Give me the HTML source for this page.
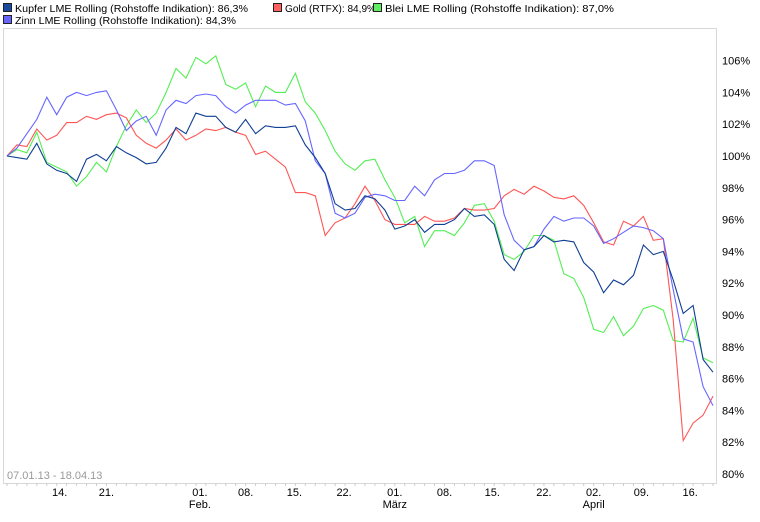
<!DOCTYPE html>
<html><head><meta charset="utf-8"><style>
body{margin:0;background:#fff;width:760px;height:517px;overflow:hidden}
svg{font-family:"Liberation Sans",sans-serif;font-size:11px}
</style></head><body>
<svg id="chart" width="760" height="517" viewBox="0 0 760 517">
<g style="font-size:10.5px">
 <g><rect x="3.5" y="3.5" width="8" height="8" fill="#1a4a9c" stroke="#222"/><text x="15" y="12" textLength="233" lengthAdjust="spacingAndGlyphs">Kupfer LME Rolling (Rohstoffe Indikation): 86,3%</text></g>
 <g><rect x="273.5" y="3.5" width="8" height="8" fill="#ff6060" stroke="#222"/><text x="285" y="12" textLength="91" lengthAdjust="spacingAndGlyphs">Gold (RTFX): 84,9%</text></g>
 <g><rect x="373.5" y="3.5" width="8" height="8" fill="#60ee60" stroke="#222"/><text x="385" y="12" textLength="229" lengthAdjust="spacingAndGlyphs">Blei LME Rolling (Rohstoffe Indikation): 87,0%</text></g>
 <g><rect x="3.5" y="15.5" width="8" height="8" fill="#6666ff" stroke="#222"/><text x="15" y="24" textLength="221" lengthAdjust="spacingAndGlyphs">Zinn LME Rolling (Rohstoffe Indikation): 84,3%</text></g>
</g>
<rect x="3.5" y="28.5" width="713" height="455" fill="none" stroke="#d8d8d8"/>
<text x="7" y="479" fill="#999">07.01.13 - 18.04.13</text>
<g id="yaxis"></g>
<g id="xaxis"></g>
<g id="series"></g>
</svg>
<script>
const kupfer=[100,99.9,99.8,100.8,99.5,99.1,98.9,98.4,99.8,100.1,99.7,100.6,100.2,99.9,99.5,99.6,100.5,101.8,101.4,102.7,102.5,102.5,101.8,101.5,102.3,101.4,101.9,101.8,101.8,101.9,100.7,99.9,98.9,97.0,96.6,96.7,97.5,97.3,96.6,95.4,95.6,96.0,95.2,95.7,95.7,96.0,96.7,96.2,96.3,95.7,93.5,92.8,94.1,94.3,95.0,94.6,94.7,94.6,93.3,92.7,91.4,92.2,91.9,92.5,94.4,93.8,94.0,92.2,90.1,90.6,87.2,86.4];
const zinn=[100,100.5,101.4,102.3,103.7,102.6,103.7,104.0,103.8,104.0,104.1,102.9,101.6,102.2,102.5,101.3,102.9,103.5,103.3,103.8,103.9,103.8,103.1,102.7,103.2,103.5,103.5,103.5,103.2,103.3,102.2,99.7,98.9,96.4,96.1,96.4,97.4,97.6,97.5,97.2,97.2,98.1,97.5,98.5,98.9,98.9,99.1,99.7,99.7,99.4,96.3,94.7,94.1,94.3,95.4,96.2,95.9,96.1,96.1,95.6,94.5,94.8,95.2,95.6,95.5,95.3,94.8,91.6,88.5,88.3,85.5,84.3];
const gold=[100,100.7,100.6,101.7,101.0,101.3,102.1,102.1,102.5,102.3,102.6,102.7,102.4,101.3,100.8,100.5,101.0,101.7,101.0,101.3,101.7,101.6,101.8,101.5,101.3,100.1,100.3,99.8,99.3,97.7,97.7,97.5,95.0,95.8,96.1,97.0,98.1,97.2,96.0,95.7,95.7,95.7,96.2,95.9,95.9,96.1,96.7,96.6,96.6,96.7,97.5,97.9,97.6,98.1,97.8,97.4,97.3,97.5,96.9,95.8,94.6,94.4,95.9,95.6,96.2,94.7,94.8,89.7,82.1,83.2,83.7,84.9];
const blei=[100,100.4,100.2,101.5,99.6,99.3,99.0,98.1,98.7,99.6,99.0,100.6,101.9,102.9,102.1,102.7,104.0,105.5,104.9,106.2,105.8,106.3,104.5,104.2,104.6,103.1,104.4,104.0,104.0,105.2,103.4,102.7,101.6,100.3,99.5,99.1,99.7,99.8,98.5,97.4,95.8,96.2,94.3,95.3,95.3,95.0,95.8,96.9,97.0,95.9,93.8,93.5,94.0,95.0,95.0,94.7,92.6,92.3,91.1,89.1,88.9,89.9,88.7,89.3,90.4,90.6,90.3,88.4,88.3,89.8,87.3,87.0];
const yTicks=[80,82,84,86,88,90,92,94,96,98,100,102,104,106];
const xTickLabels=["14.","21.","01.","08.","15.","22.","01.","08.","15.","22.","02.","09.","16."];
const xTickSub=["","","Feb.","","","","März","","","","April","",""];
const xTickIdx=[5.3,10,19.4,24,28.9,33.9,39,44,48.8,54,59,63.8,68.7];

const NS="http://www.w3.org/2000/svg";
const N=kupfer.length;
function xs(i){return 7+i*(706/(N-1));}
function ys(v){return 156-(v-100)*15.9;}
function mk(tag,attrs,parent){const e=document.createElementNS(NS,tag);for(const k in attrs)e.setAttribute(k,attrs[k]);parent.appendChild(e);return e;}

const ya=document.getElementById('yaxis');
yTicks.forEach(v=>{
  const t=mk('text',{x:722,y:ys(v)+4,fill:'#000'},ya);
  
  
  t.textContent=v+'%';
});
const xa=document.getElementById('xaxis');
for(let i=0;i<N;i++){
  const l=mk('line',{x1:xs(i),x2:xs(i),y1:483,y2:486,stroke:'#ccc'},xa);
  
  
}
xTickLabels.forEach((lab,k)=>{
  const x=xs(xTickIdx[k]);
  const t=mk('text',{x:x,y:496,'text-anchor':'middle'},xa);
  
  
  t.textContent=lab;
  if(xTickSub[k]){
    const s=mk('text',{x:x,y:508,'text-anchor':'middle'},xa);
    
    
    s.textContent=xTickSub[k];
  }
});
const sl=document.getElementById('series');
[[blei,'#55ee55','blei-line'],[gold,'#ff5555','gold-line'],[zinn,'#6666ff','zinn-line'],[kupfer,'#0f3f93','kupfer-line']].forEach(([d,c,n])=>{
  const p=mk('polyline',{points:d.map((v,i)=>xs(i).toFixed(1)+','+ys(v).toFixed(1)).join(' '),fill:'none',stroke:c,'stroke-width':1.1},sl);
  
  
});
</script>
</body></html>
